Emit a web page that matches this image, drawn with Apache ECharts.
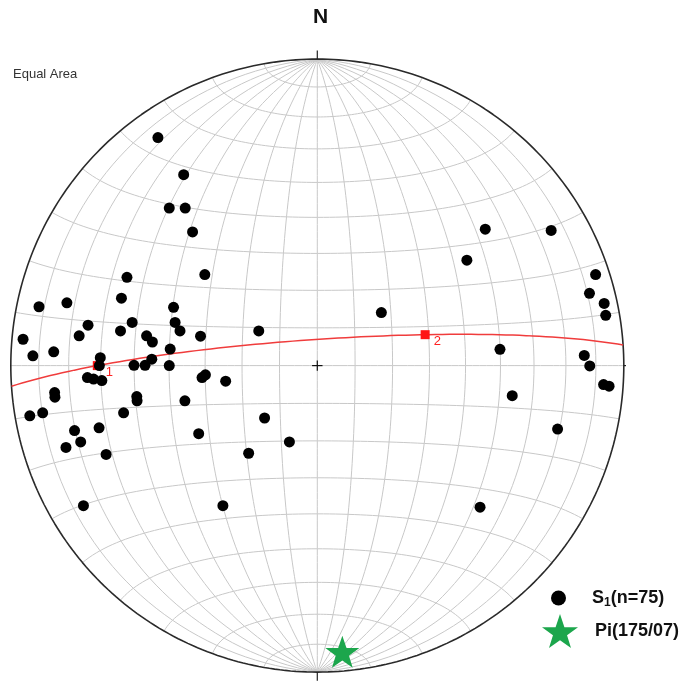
<!DOCTYPE html>
<html>
<head>
<meta charset="utf-8">
<script src="https://cdn.jsdelivr.net/npm/echarts@6/dist/echarts.min.js"></script>
<style>
html, body { margin: 0; padding: 0; background: #fff; }
#chart { width: 688px; height: 681px; }
</style>
</head>
<body>
<div id="chart"></div>
<script>
// S1 poles (east / north on the unit primitive)
var poleEast = [
  -0.520, -0.436, -0.483, -0.431, -0.407, -0.367, -0.621, -0.639, -0.469, -0.908,
  -0.817, -0.604, -0.464, -0.448, -0.748, -0.777, -0.642, -0.960, -0.860, -0.928,
  -0.557, -0.538, -0.480, -0.381, -0.191, -0.708, -0.711, -0.750, -0.730, -0.703,
  -0.598, -0.562, -0.540, -0.483, -0.376, -0.365, -0.299, -0.857, -0.856, -0.589,
  -0.588, -0.432, -0.938, -0.896, -0.632, -0.172, -0.792, -0.712, -0.772, -0.820,
  -0.689, -0.387, -0.224, -0.091, -0.763, -0.308,
  0.548, 0.763, 0.488, 0.908, 0.888, 0.936, 0.941, 0.209, 0.596, 0.871,
  0.889, 0.934, 0.952, 0.636, 0.784, 0.531
];
var poleNorth = [
  0.744, 0.623, 0.514, 0.514, 0.436, 0.297, 0.288, 0.220, 0.190, 0.192,
  0.205, 0.141, 0.141, 0.113, 0.132, 0.097, 0.113, 0.086, 0.045, 0.032,
  0.097, 0.077, 0.054, 0.096, 0.113, 0.026, 0.000, -0.039, -0.044, -0.049,
  0.001, 0.001, 0.021, 0.000, -0.039, -0.030, -0.051, -0.088, -0.103, -0.101,
  -0.115, -0.115, -0.164, -0.154, -0.154, -0.171, -0.212, -0.203, -0.249, -0.267,
  -0.290, -0.222, -0.286, -0.249, -0.457, -0.457,
  0.445, 0.441, 0.344, 0.297, 0.236, 0.203, 0.164, 0.173, 0.053, 0.033,
  -0.001, -0.062, -0.067, -0.098, -0.207, -0.462
];
// Pi axis (trend / plunge)
var piTrend = 175;
var piPlunge = 7;
// eigenvectors on the girdle (trend / plunge)
var eigenNames = ['1', '2'];
var eigenTrend = [270, 74];
var eigenPlunge = [29, 60];

var D = Math.PI / 180;

// lower hemisphere equal-area (Schmidt) projection, z positive down
function proj(x, y, z) {
  var k = 1 / Math.sqrt(1 + z);
  return [x * k, y * k];
}
function vec(trend, plunge) {
  var t = trend * D, p = plunge * D;
  return [Math.sin(t) * Math.cos(p), Math.cos(t) * Math.cos(p), Math.sin(p)];
}
function cross(a, b) {
  return [a[1] * b[2] - a[2] * b[1], a[2] * b[0] - a[0] * b[2], a[0] * b[1] - a[1] * b[0]];
}
function unit(a) {
  var l = Math.sqrt(a[0] * a[0] + a[1] * a[1] + a[2] * a[2]);
  return [a[0] / l, a[1] / l, a[2] / l];
}

var series = [];
function addLine(data, color, width, z) {
  series.push({
    type: 'line', data: data, showSymbol: false, silent: true, clip: false,
    animation: false, z: z, lineStyle: { color: color, width: width }
  });
}

// great circles through N and S
for (var a = -80; a <= 80; a += 10) {
  var pts = [];
  for (var s = 0; s <= 180; s += 2) {
    pts.push(proj(-Math.sin(a * D) * Math.sin(s * D), Math.cos(s * D), Math.cos(a * D) * Math.sin(s * D)));
  }
  addLine(pts, '#c8c8c8', 1, 1);
}
// small circles about the N-S axis
for (var b = 10; b <= 170; b += 10) {
  var pts2 = [];
  for (var t = 0; t <= 180; t += 2) {
    pts2.push(proj(Math.sin(b * D) * Math.cos(t * D), Math.cos(b * D), Math.sin(b * D) * Math.sin(t * D)));
  }
  addLine(pts2, '#c8c8c8', 1, 1);
}
// primitive
var prim = [];
for (var u = 0; u <= 360; u += 1) prim.push([Math.sin(u * D), Math.cos(u * D)]);
addLine(prim, '#2a2a2a', 1.6, 3);

// N, E, S, W ticks and centre cross
var tk = 0.028, cc = 0.017;
addLine([[0, 1], [0, 1 + tk]], '#222', 1.2, 3);
addLine([[0, -1], [0, -1 - tk]], '#222', 1.2, 3);
addLine([[1, 0], [1 + tk, 0]], '#222', 1.2, 3);
addLine([[-1, 0], [-1 - tk, 0]], '#222', 1.2, 3);
addLine([[-cc, 0], [cc, 0]], '#111', 1.2, 3);
addLine([[0, -cc], [0, cc]], '#111', 1.2, 3);

// girdle through the two eigenvectors
var e1 = vec(eigenTrend[0], eigenPlunge[0]);
var e2 = vec(eigenTrend[1], eigenPlunge[1]);
var n = unit(cross(e1, e2));
var h = unit([n[1], -n[0], 0]);
var d = cross(n, h);
if (d[2] < 0) d = [-d[0], -d[1], -d[2]];
var gird = [];
for (var g = 0; g <= 180; g += 2) {
  var c = Math.cos(g * D), sn = Math.sin(g * D);
  gird.push(proj(c * h[0] + sn * d[0], c * h[1] + sn * d[1], c * h[2] + sn * d[2]));
}
addLine(gird, '#f03c3c', 1.5, 4);

var star = 'path://M50,0 L61.8,35.1 L98.1,35.1 L68.8,56.8 L79.4,91 L50,70 L20.6,91 L31.2,56.8 L1.9,35.1 L38.2,35.1 Z';

series.push({
  name: 'S1', type: 'scatter', clip: false, z: 10, symbolSize: 11,
  itemStyle: { color: '#000', opacity: 1 },
  data: poleEast.map(function (e, i) { return [e, poleNorth[i]]; })
});
series.push({
  type: 'scatter', clip: false, z: 6, symbol: 'rect', symbolSize: 9,
  itemStyle: { color: '#ff1414', opacity: 1 },
  label: { show: true, position: 'right', offset: [-1, 7], color: '#ff2020', fontSize: 13, formatter: '{b}' },
  data: eigenNames.map(function (nm, i) {
    var v = vec(eigenTrend[i], eigenPlunge[i]);
    return { name: nm, value: proj(v[0], v[1], v[2]) };
  })
});
var pv = vec(piTrend, piPlunge);
series.push({
  name: 'Pi', type: 'scatter', clip: false, z: 11, symbol: star, symbolSize: 34,
  symbolKeepAspect: true, itemStyle: { color: '#1ca64c', opacity: 1 },
  data: [proj(pv[0], pv[1], pv[2])]
});

var legText = { fontFamily: 'Liberation Sans', fontWeight: 'bold', fontSize: 18, color: '#111' };
var chart = echarts.init(document.getElementById('chart'));
chart.setOption({
  animation: false,
  title: [
    { text: 'N', left: 313, top: 7, padding: 0,
      textStyle: { fontFamily: 'Liberation Sans', fontWeight: 'bold', fontSize: 21, color: '#111' } },
    { text: 'Equal Area', left: 13, top: 68, padding: 0,
      textStyle: { fontFamily: 'Liberation Sans', fontWeight: 'normal', fontSize: 13, color: '#333' } }
  ],
  grid: { left: 10.8, top: 59.1, width: 613, height: 613 },
  xAxis: { type: 'value', min: -1, max: 1, show: false },
  yAxis: { type: 'value', min: -1, max: 1, show: false },
  legend: [
    { data: ['S1'], left: 551, top: 589, padding: 0, itemWidth: 15, itemHeight: 15, selectedMode: false,
      formatter: function () { return '{f|S}{s|1}{a|(n=75)}'; },
      textStyle: { rich: {
        f: { fontFamily: 'Liberation Sans', fontWeight: 'bold', fontSize: 18, color: '#111', padding: [0, 0, 0, 21] },
        a: legText,
        s: { fontFamily: 'Liberation Sans', fontWeight: 'bold', fontSize: 12, color: '#111', verticalAlign: 'bottom', padding: [9, 0, 0, 0] }
      } } },
    { data: [{ name: 'Pi', icon: star }], left: 542, top: 614, padding: 0, itemWidth: 36, itemHeight: 36, selectedMode: false,
      formatter: function () { return '{a|Pi(175/07)}'; },
      textStyle: { rich: {
        a: { fontFamily: 'Liberation Sans', fontWeight: 'bold', fontSize: 18, color: '#111', padding: [0, 0, 0, 12] }
      } } }
  ],
  series: series
});
</script>
</body>
</html>
